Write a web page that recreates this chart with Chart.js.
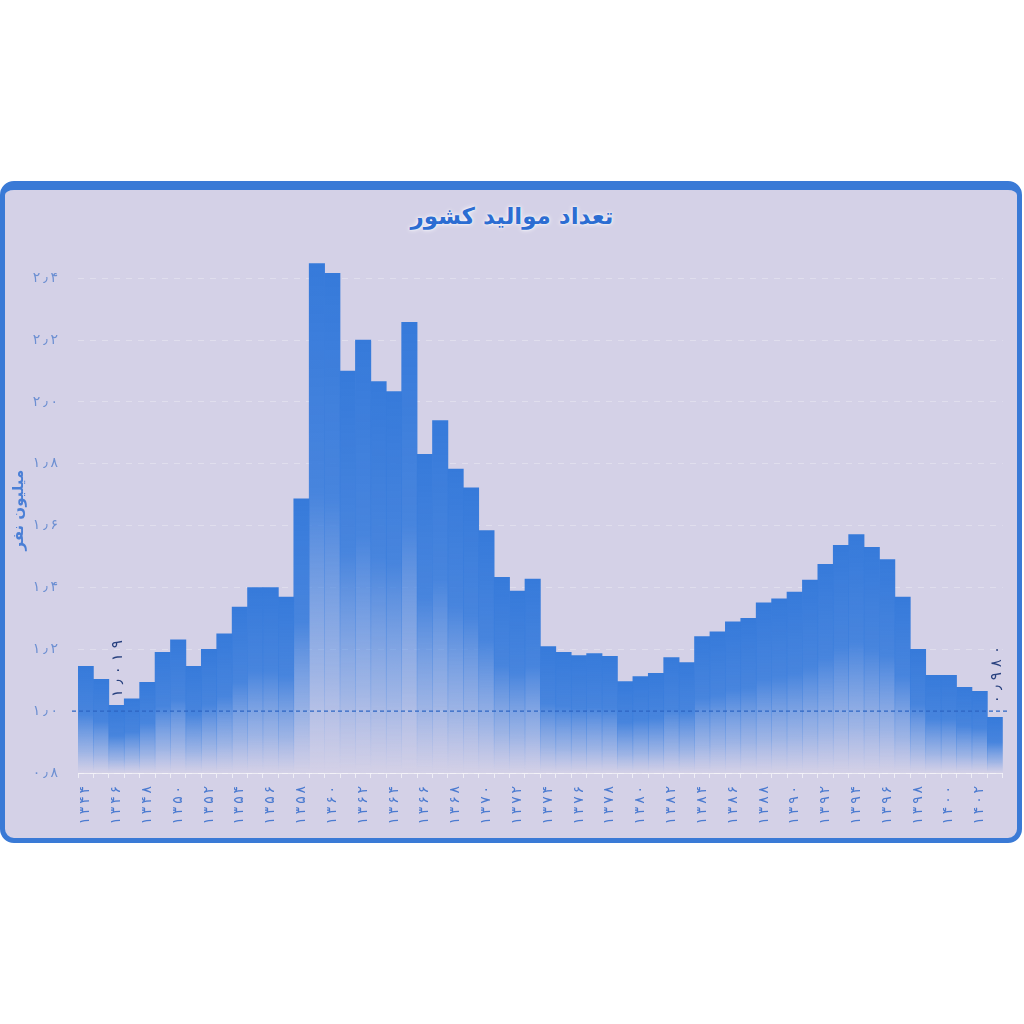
<!DOCTYPE html>
<html>
<head>
<meta charset="utf-8">
<script src="https://cdn.jsdelivr.net/npm/chart.js@4"></script>
<style>
    body { margin: 0; background: #ffffff; width: 1024px; height: 1024px; position: relative; overflow: hidden; font-family: "DejaVu Sans", sans-serif; }
    #card {
        position: absolute; left: 0; top: 181px; width: 1022px; height: 662px;
        box-sizing: border-box; background: #d4d1e7;
        border: 5px solid #3a7ad6; border-top-width: 9px; border-radius: 14px;
    }
    #title {
        position: absolute; left: 0; width: 1024px; top: 203px; text-align: center;
        font: bold 23px "DejaVu Sans", sans-serif; color: #2c6dd2;
        text-shadow: 0 0 5px #ffffff, 0 0 2px #ffffff;
        direction: rtl;
    }
    #wrap { position: absolute; left: 0; top: 219px; width: 1020px; height: 621px; }
</style>
</head>
<body>
<div id="card"></div>
<div id="title">تعداد موالید کشور</div>
<div id="wrap"><canvas id="chart"></canvas></div>
<script>
// ==========================
// DATA
// ==========================

const years = [
    1344, 1345, 1346, 1347, 1348, 1349, 1350, 1351, 1352, 1353,
    1354, 1355, 1356, 1357, 1358, 1359, 1360, 1361, 1362, 1363,
    1364, 1365, 1366, 1367, 1368, 1369, 1370, 1371, 1372, 1373,
    1374, 1375, 1376, 1377, 1378, 1379, 1380, 1381, 1382, 1383,
    1384, 1385, 1386, 1387, 1388, 1389, 1390, 1391, 1392, 1393,
    1394, 1395, 1396, 1397, 1398, 1399, 1400, 1401, 1402, 1403
];

// births, million people
const births = [
    1.145, 1.103, 1.019, 1.040, 1.093, 1.190, 1.231, 1.145, 1.200, 1.250,
    1.337, 1.400, 1.400, 1.369, 1.687, 2.448, 2.416, 2.100, 2.200, 2.066,
    2.034, 2.258, 1.831, 1.940, 1.783, 1.722, 1.584, 1.433, 1.388, 1.427,
    1.209, 1.190, 1.180, 1.186, 1.177, 1.096, 1.112, 1.122, 1.173, 1.157,
    1.241, 1.257, 1.289, 1.300, 1.350, 1.363, 1.385, 1.424, 1.475, 1.536,
    1.571, 1.530, 1.490, 1.369, 1.200, 1.116, 1.116, 1.077, 1.064, 0.980
];

const yMin = 0.8;
const yMax = 2.5;
const yStep = 0.2;
const refValue = 1.0;

// bars that carry a value label
const noteIndexes = [2, 59];
const noteTexts = ["۱٫۰۱۹", "۰٫۹۸۰"];

const yTitle = "میلیون نفر";


// ==========================
// HELPERS
// ==========================

const faDigits = "۰۱۲۳۴۵۶۷۸۹";

function toFa(s) {
    return String(s).replace(/[0-9]/g, d => faDigits[d]).replace(".", "٫");
}

// spread the characters a little, like the original
function spaced(s) {
    return Array.from(s).join("\u2009");
}

function barGradient(context) {

    const chart = context.chart;
    const area = chart.chartArea;

    if (!area) return "#3a7ddc";

    const top = chart.scales.y.getPixelForValue(births[context.dataIndex]);
    const g = chart.ctx.createLinearGradient(0, top, 0, area.bottom);

    g.addColorStop(0, "rgba(54,122,218,1)");
    g.addColorStop(0.45, "rgba(56,124,220,0.9)");
    g.addColorStop(0.8, "rgba(70,134,226,0.38)");
    g.addColorStop(1, "rgba(90,140,230,0)");

    return g;
}


// ==========================
// PLUGIN: 1.0 line + notes
// ==========================

const extras = {
    id: "extras",
    afterDatasetsDraw(chart) {

        const { ctx, chartArea, scales } = chart;
        const y = scales.y.getPixelForValue(refValue);

        ctx.save();
        ctx.strokeStyle = "#2c64c2";
        ctx.lineWidth = 1.3;
        ctx.setLineDash([4, 3]);
        ctx.beginPath();
        ctx.moveTo(chartArea.left - 6, y);
        ctx.lineTo(chartArea.right + 6, y);
        ctx.stroke();
        ctx.restore();

        noteIndexes.forEach((idx, i) => {

            const x = scales.x.getPixelForValue(idx);
            const top = scales.y.getPixelForValue(births[idx]);
            const start = Math.min(top, y) - 8;
            const chars = Array.from(noteTexts[i]);

            ctx.save();
            ctx.translate(x + 2, start);
            ctx.rotate(-Math.PI / 2);
            ctx.font = "15px 'DejaVu Sans'";
            ctx.fillStyle = "#27407e";
            ctx.textAlign = "left";
            ctx.textBaseline = "middle";

            let pos = 0;
            chars.forEach(c => {
                ctx.fillText(c, pos, 0);
                pos += ctx.measureText(c).width + 5;
            });

            ctx.restore();
        });
    }
};


// ==========================
// CHART
// ==========================

const ctx = document.getElementById("chart").getContext("2d");

new Chart(ctx, {
    type: "bar",
    data: {
        labels: years,
        datasets: [{
            data: births,
            backgroundColor: barGradient,
            borderWidth: 0,
            barPercentage: 1,
            categoryPercentage: 1
        }]
    },
    options: {
        responsive: true,
        maintainAspectRatio: false,
        animation: false,
        layout: {
            padding: { top: 8, right: 14, bottom: 4, left: 0 }
        },
        plugins: {
            legend: { display: false },
            tooltip: { enabled: false }
        },
        scales: {
            x: {
                afterFit: scale => { scale.height = 63; },
                grid: {
                    drawOnChartArea: false,
                    color: "rgba(255,255,255,0.6)",
                    tickLength: 5
                },
                border: { display: true, color: "rgba(255,255,255,0.6)" },
                ticks: {
                    autoSkip: false,
                    minRotation: 90,
                    maxRotation: 90,
                    padding: 8,
                    color: "#4a7ad0",
                    font: { family: "DejaVu Sans", size: 14 },
                    callback: (val, idx) => idx % 2 === 0 ? spaced(toFa(years[idx])) : ""
                }
            },
            y: {
                min: yMin,
                max: yMax,
                afterFit: scale => { scale.width = 78; },
                border: { display: false, dash: [6, 6] },
                grid: {
                    color: "rgba(255,255,255,0.28)",
                    drawTicks: false
                },
                ticks: {
                    stepSize: yStep,
                    includeBounds: false,
                    padding: 20,
                    color: "#6c8fd2",
                    font: { family: "DejaVu Sans", size: 14 },
                    callback: v => spaced(toFa(v.toFixed(1)))
                },
                title: {
                    display: true,
                    text: yTitle,
                    color: "#4a7fd6",
                    padding: { top: 10, bottom: 0 },
                    font: { family: "DejaVu Sans", size: 15, weight: "bold" }
                }
            }
        }
    },
    plugins: [extras]
});
</script>
</body>
</html>
